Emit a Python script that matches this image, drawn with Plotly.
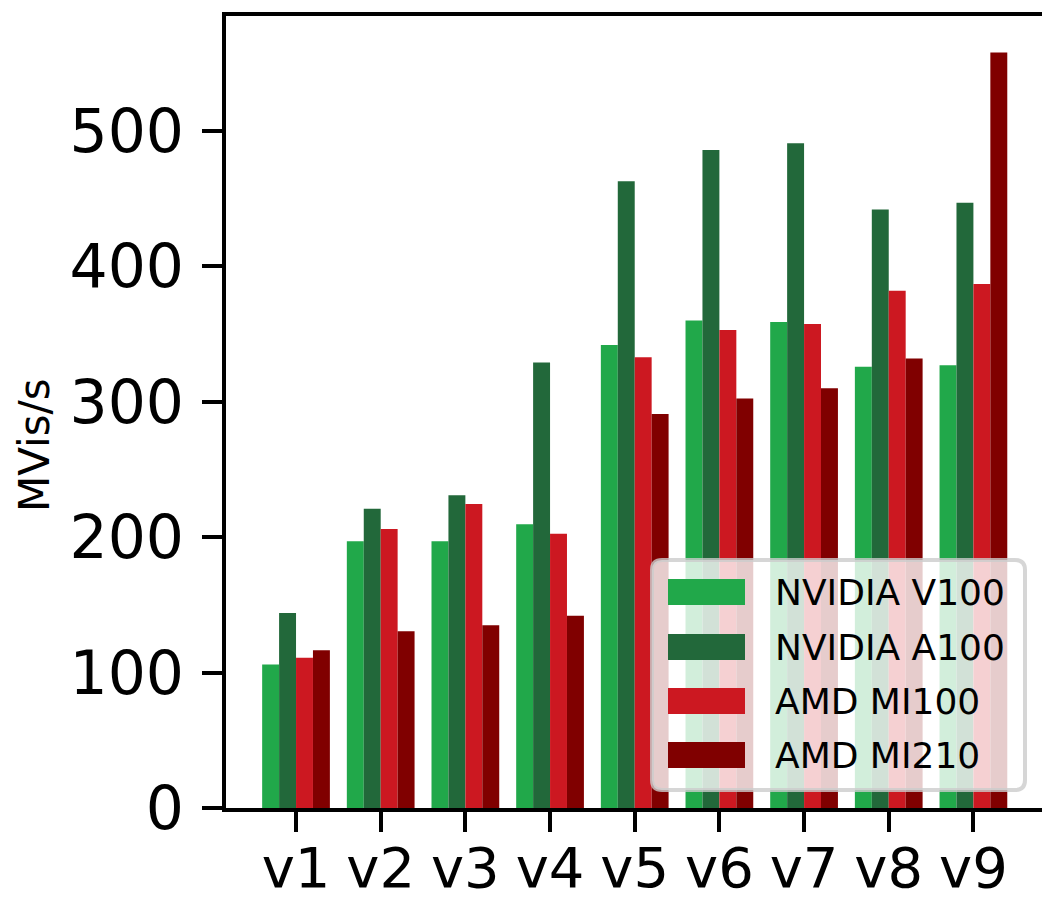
import plotly.graph_objects as go

# Throughput per kernel version for each GPU
versions = ["v1", "v2", "v3", "v4", "v5", "v6", "v7", "v8", "v9"]
nvidia_v100 = [106, 197, 197, 209.5, 342, 360, 359, 326, 327]
nvidia_a100 = [144, 221, 231, 329, 463, 486, 491, 442, 447]
amd_mi100 = [111, 206, 224.5, 202.5, 333, 353, 357.5, 382, 387]
amd_mi210 = [116.5, 130.5, 135, 142, 291, 302.5, 310, 332, 558]

series = [
    ("NVIDIA V100", nvidia_v100, "#21a84a"),
    ("NVIDIA A100", nvidia_a100, "#22683a"),
    ("AMD MI100", amd_mi100, "#cc1821"),
    ("AMD MI210", amd_mi210, "#800000"),
]

fig = go.Figure()
for name, vals, color in series:
    fig.add_trace(go.Bar(x=versions, y=vals, name=name, marker_color=color,
                         marker_line_width=0, showlegend=False))

font_family = "DejaVu Sans"
L, R, T, B = 226, 1, 16, 94

fig.update_layout(
    width=1043, height=902,
    margin=dict(l=L, r=R, t=T, b=B),
    paper_bgcolor="white", plot_bgcolor="white",
    barmode="group", bargap=0.2, bargroupgap=0,
    font=dict(family=font_family, color="black"),
)

fig.update_xaxes(
    type="category", range=[-0.827, 8.81], automargin=False,
    showline=True, linecolor="black", linewidth=4, mirror=True,
    ticks="outside", ticklen=20, tickwidth=4, tickcolor="black",
    tickfont=dict(size=56, family=font_family), ticklabelstandoff=-12,
    showgrid=False, zeroline=False,
)
fig.update_yaxes(
    range=[0, 585], automargin=False,
    tickvals=[0, 100, 200, 300, 400, 500],
    showline=True, linecolor="black", linewidth=4, mirror=False,
    ticks="outside", ticklen=20, tickwidth=4, tickcolor="black",
    tickfont=dict(size=60, family=font_family), ticklabelstandoff=6,
    showgrid=False, zeroline=False,
)

W, H = 1043 - L - R, 902 - T - B


def px(x):
    return (x - L) / W


def py(y):
    return 1 - (y - T) / H


# Y-axis title
fig.add_annotation(x=px(35), y=py(445), xref="paper", yref="paper",
                   text="MVis/s", showarrow=False, textangle=-90,
                   xanchor="center", yanchor="middle",
                   font=dict(size=42, family=font_family, color="black"))

# Legend box drawn in paper coordinates on top of the bars
x0, x1 = 652, 1025
y0, y1 = 560, 790
r = 10
path = (f"M {px(x0 + r)},{py(y0)} L {px(x1 - r)},{py(y0)} "
        f"Q {px(x1)},{py(y0)} {px(x1)},{py(y0 + r)} "
        f"L {px(x1)},{py(y1 - r)} Q {px(x1)},{py(y1)} {px(x1 - r)},{py(y1)} "
        f"L {px(x0 + r)},{py(y1)} Q {px(x0)},{py(y1)} {px(x0)},{py(y1 - r)} "
        f"L {px(x0)},{py(y0 + r)} Q {px(x0)},{py(y0)} {px(x0 + r)},{py(y0)} Z")
fig.add_shape(type="path", path=path, xref="paper", yref="paper",
              fillcolor="rgba(255,255,255,0.8)",
              line=dict(color="rgba(204,204,204,0.8)", width=4), layer="above")

row_y = [592, 647, 701, 755]
for (name, _, color), yc in zip(series, row_y):
    fig.add_shape(type="rect", xref="paper", yref="paper",
                  x0=px(668), x1=px(745), y0=py(yc - 13), y1=py(yc + 13),
                  fillcolor=color, line_width=0, layer="above")
    fig.add_annotation(x=px(773), y=py(yc), xref="paper", yref="paper",
                       text=name, showarrow=False, xanchor="left", yanchor="middle",
                       font=dict(size=36, family=font_family, color="black"))

fig.write_html("out.html")
